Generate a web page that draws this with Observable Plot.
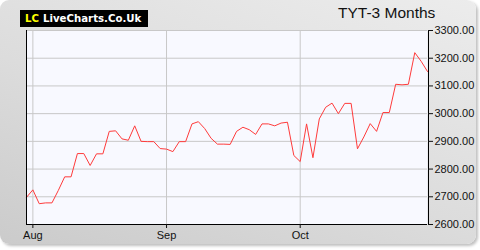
<!DOCTYPE html>
<html>
<head>
<meta charset="utf-8">
<script src="https://cdn.jsdelivr.net/npm/d3@7"></script>
<script src="https://cdn.jsdelivr.net/npm/@observablehq/plot@0.6"></script>
<style>
  html, body { margin: 0; padding: 0; background: #ffffff; }
  #wrap { position: relative; width: 480px; height: 250px; overflow: hidden; }
  #panel {
    position: absolute; left: 0; top: 0; width: 476px; height: 244px;
    border-radius: 9px;
    background: linear-gradient(200deg, #ececec 0%, #dcdcdc 55%, #cbcbcb 100%);
    box-shadow: 2px 2px 3px rgba(0,0,0,0.25);
  }
  #logo {
    position: absolute; left: 20px; top: 10px; width: 128px; height: 17px;
    background: #000; color: #fff; font-family: "DejaVu Sans", sans-serif;
    font-weight: bold; font-size: 10.2px; line-height: 17px; white-space: nowrap;
    box-sizing: border-box; padding-left: 5px;
  }
  #logo span { color: #ffff00; margin-right: 4px; }
  #title {
    position: absolute; left: 338px; top: 4px; font-family: "Liberation Sans", Arial, sans-serif;
    font-size: 15.5px; color: #111; white-space: nowrap;
  }
  #chart { position: absolute; left: 0; top: 0; }
</style>
</head>
<body>
<div id="wrap">
  <div id="panel"></div>
  <div id="chart"></div>
  <div id="logo"><span>LC</span>LiveCharts.Co.Uk</div>
  <div id="title">TYT-3 Months</div>
</div>
<script>
const prices = [
  2698, 2725, 2675, 2678, 2678, 2723, 2772, 2772, 2856, 2856,
  2813, 2855, 2855, 2936, 2938, 2909, 2904, 2956, 2900, 2899,
  2899, 2874, 2872, 2863, 2899, 2899, 2963, 2971, 2946, 2911,
  2890, 2890, 2889, 2936, 2951, 2942, 2925, 2963, 2963, 2956,
  2966, 2969, 2849, 2827, 2963, 2841, 2981, 3023, 3038, 3000,
  3037, 3037, 2873, 2916, 2964, 2936, 3004, 3004, 3106, 3104,
  3106, 3220, 3189, 3152
];
const monthTickIndex = [1, 22, 43];
const monthLabels = ["Aug", "Sep", "Oct"];
const yTicks = [2600, 2700, 2800, 2900, 3000, 3100, 3200, 3300];

const data = prices.map((v, i) => ({i, v}));
const labelOf = new Map(monthTickIndex.map((t, k) => [t, monthLabels[k]]));

const chart = Plot.plot({
  width: 480,
  height: 250,
  marginLeft: 26,
  marginRight: 53,
  marginTop: 30,
  marginBottom: 26,
  style: {background: "transparent", fontFamily: "'Liberation Sans', Arial, sans-serif", fontSize: "11px", color: "#111"},
  x: {domain: [0, prices.length - 1]},
  y: {domain: [2600, 3300]},
  marks: [
    Plot.frame({fill: "#f8f9ff", stroke: null}),
    Plot.gridY(yTicks, {stroke: "#c8c8c8", strokeOpacity: 1}),
    Plot.gridX(monthTickIndex, {stroke: "#c8c8c8", strokeOpacity: 1}),
    Plot.line(data, {x: "i", y: "v", stroke: "#ff3b3b", strokeWidth: 1}),
    Plot.ruleX([0], {stroke: "#000"}),
    Plot.ruleX([prices.length - 1], {stroke: "#000", dx: 1}),
    Plot.ruleY([2600], {stroke: "#000"}),
    Plot.axisY(yTicks, {anchor: "right", tickSize: 5, tickPadding: 2, tickFormat: d => d.toFixed(2), label: null, fill: "#111"}),
    Plot.axisX(monthTickIndex, {anchor: "bottom", tickSize: 4, tickPadding: 3, tickFormat: d => labelOf.get(d), label: null, fill: "#111"})
  ]
});
document.getElementById("chart").appendChild(chart);
</script>
</body>
</html>
